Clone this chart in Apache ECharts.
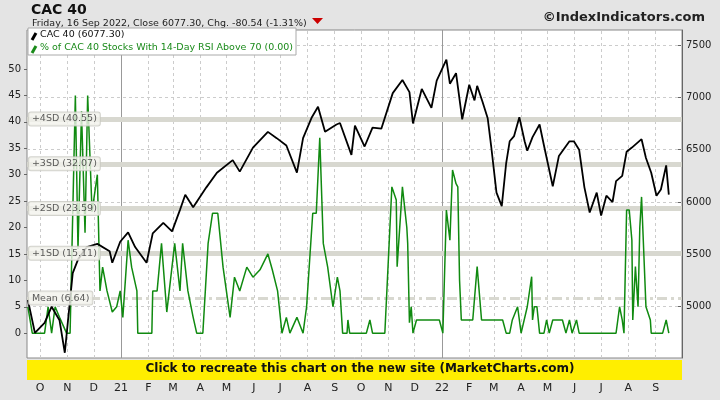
<!DOCTYPE html>
<html><head><meta charset="utf-8">
<script src="https://cdn.jsdelivr.net/npm/echarts@6/dist/echarts.min.js"></script>
<style>html,body{margin:0;padding:0;background:#e4e4e4}#c{width:720px;height:400px}</style>
</head><body><div id="c"></div>
<script>
// day offsets are days since 2020-09-16
const cacDays = [1,9,20,28,37,43,52,58,68,80,94,97,106,115,123,136,143,155,165,174,180,189,204,216,234,242,257,274,284,295,307,314,324,331,339,352,356,369,373,384,393,403,416,427,435,439,449,460,466,477,481,488,495,503,509,512,518,524,528,534,540,545,549,554,560,566,569,575,583,588,598,605,617,622,628,634,640,648,653,659,666,670,677,682,688,699,704,710,716,721,727,730];
const cacValues = [5064,4750,4845,5000,4870,4560,5320,5450,5570,5600,5530,5420,5620,5710,5570,5420,5700,5800,5720,5925,6070,5950,6140,6280,6400,6290,6520,6670,6610,6540,6280,6610,6810,6910,6670,6740,6755,6450,6730,6530,6710,6700,7040,7165,7050,6750,7080,6900,7160,7360,7130,7230,6790,7120,6970,7110,6960,6800,6530,6090,5960,6370,6580,6630,6810,6580,6490,6620,6740,6540,6150,6440,6580,6580,6500,6140,5900,6090,5870,6060,6000,6200,6250,6480,6520,6600,6420,6280,6060,6120,6350,6070];
const rsiDays = [1,6,20,24,28,32,37,45,49,55,58,62,66,69,74,80,83,86,91,97,102,106,109,115,119,125,126,142,143,148,153,159,168,174,177,183,189,193,200,206,211,217,223,231,236,242,250,257,265,274,279,285,290,295,299,307,314,318,325,329,333,337,342,348,353,356,359,364,365,367,386,390,393,407,415,420,421,427,432,433,435,437,439,443,444,469,473,477,481,484,488,490,492,494,507,512,517,541,545,549,552,558,562,569,574,575,577,580,583,588,591,594,598,609,613,617,620,625,628,670,674,677,679,682,685,688,689,692,695,697,699,704,709,710,723,727,730];
const rsiValues = [5,0,0,5,0,5,3,0,0,45,16,42,19,45,23,30,8,12.5,8,4,5,8,3,17.6,12.5,8,0,0,8,8,17,4,17,8,17,8,3,0,0,17,22.7,22.7,12.5,3,10.6,8,12.5,10.6,12,15,12,8,0,3,0,3,0,5,22.7,22.7,37,17,12.5,5,10.6,8,0,0,2.5,0,0,2.5,0,0,27.7,25.2,12.6,27.7,20,17,2,5,0,2.5,2.5,2.5,0,23.3,17.6,30.9,28.3,27.7,10,2.5,2.5,12.6,2.5,2.5,0,0,2.5,5,0,5,10.7,2.5,5,5,0,0,2.5,0,2.5,2.5,0,2.5,0,2.5,0,0,5,2.5,0,23.3,23.3,17.6,2.5,12.6,5,20,25.8,5,2.5,0,0,2.5,0];
const monthDays = [15,46,76,107,138,166,197,227,258,288,319,350,380,411,441,472,503,531,562,592,623,653,684,715];
const monthLabels = ['O','N','D','21','F','M','A','M','J','J','A','S','O','N','D','22','F','M','A','M','J','J','A','S'];
const yearDays = [107,472];
const leftTicks = [0,5,10,15,20,25,30,35,40,45,50];
const rightTicks = [4500,5000,5500,6000,6500,7000,7500];
const bandNames = ['+4SD (40.55)','+3SD (32.07)','+2SD (23.59)','+1SD (15.11)','Mean (6.64)'];
const bandValues = [40.55,32.07,23.59,15.11,6.64];

const F = 'DejaVu Sans';
const zip = (a,b)=>a.map((d,i)=>[d,b[i]]);
const chart = echarts.init(document.getElementById('c'));
const bandLines = bandValues.map((v,i)=> i<4 ? {yAxis:v} :
  {yAxis:v,lineStyle:{type:[10,4,3,4],width:3,color:'#d8d8d0'}});
chart.setOption({
  backgroundColor:'#e4e4e4',
  animation:false,
  title:[
    {text:'CAC 40',left:26,top:-2,textStyle:{fontFamily:F,fontSize:14,fontWeight:'bold',color:'#111'}},
    {text:'Friday, 16 Sep 2022, Close 6077.30, Chg. -80.54 (-1.31%)',left:27,top:14,textStyle:{fontFamily:F,fontSize:9.5,fontWeight:'normal',color:'#222'}},
    {text:'©IndexIndicators.com',right:10,top:6,textStyle:{fontFamily:F,fontSize:13,fontWeight:'bold',color:'#222'}}
  ],
  graphic:[
    {type:'polygon',shape:{points:[[312,18],[323,18],[317.5,24]]},style:{fill:'#cc0000'}},
    {type:'rect',shape:{x:27,y:360,width:655,height:20},style:{fill:'#ffee00'},z:10},
    {type:'text',left:'center',top:363,style:{text:'Click to recreate this chart on the new site (MarketCharts.com)',font:'bold 12px DejaVu Sans',fill:'#111'},z:11},
    {type:'rect',shape:{x:28,y:28,width:268,height:27},style:{fill:'#fff',stroke:'#aaa',lineWidth:1},z:20},
    {type:'line',shape:{x1:32,y1:40,x2:36,y2:33},style:{stroke:'#000',lineWidth:3},z:21},
    {type:'text',x:40,y:30,style:{text:'CAC 40 (6077.30)',font:'9.5px DejaVu Sans',fill:'#111'},z:21},
    {type:'line',shape:{x1:32,y1:53,x2:36,y2:46},style:{stroke:'#1a8a1a',lineWidth:3},z:21},
    {type:'text',x:40,y:43,style:{text:'% of CAC 40 Stocks With 14-Day RSI Above 70 (0.00)',font:'9.5px DejaVu Sans',fill:'#1a8a1a'},z:21}
  ],
  grid:{left:27,right:38,top:30,bottom:42,show:true,backgroundColor:'#fff',borderColor:'#888'},
  xAxis:{type:'value',min:0,max:745,splitLine:{show:false},axisLine:{show:false},
    axisTick:{show:false},
    axisLabel:{customValues:monthDays,margin:25,fontFamily:F,fontSize:11,color:'#222',
      formatter:v=>monthLabels[monthDays.indexOf(v)]}},
  yAxis:[
    {type:'value',min:-4.7,max:57.4,position:'left',splitLine:{show:false},axisLine:{show:false},
      axisTick:{show:true,customValues:leftTicks,length:3,lineStyle:{color:'#666'}},
      axisLabel:{customValues:leftTicks,fontFamily:F,fontSize:10,color:'#222',margin:6}},
    {type:'value',min:4510,max:7643,position:'right',splitLine:{show:false},axisLine:{show:true,lineStyle:{color:'#666'}},
      axisTick:{show:true,customValues:rightTicks,length:4,inside:true,lineStyle:{color:'#666'}},
      axisLabel:{customValues:rightTicks,fontFamily:F,fontSize:10,color:'#222',margin:4,formatter:v=>String(v)}}
  ],
  series:[
    {type:'line',yAxisIndex:1,data:[],silent:true,
      markLine:{symbol:'none',silent:true,label:{show:false},animation:false,
        data:[...rightTicks.map(v=>({yAxis:v,lineStyle:{type:[3,3],color:'#ccc',width:1}})),
              ...monthDays.filter(d=>!yearDays.includes(d)).map(d=>({xAxis:d,lineStyle:{type:[3,3],color:'#ccc',width:1}})),
              ...yearDays.map(d=>({xAxis:d,lineStyle:{type:'solid',color:'#999',width:1}}))]}},
    {type:'line',yAxisIndex:0,data:[],silent:true,
      markLine:{symbol:'none',silent:true,animation:false,label:{show:false},
        lineStyle:{type:'solid',width:5,color:'#d8d8d0'},data:bandLines}},
    {name:'rsi',type:'line',yAxisIndex:0,data:zip(rsiDays,rsiValues),showSymbol:false,
      lineStyle:{color:'#108a10',width:1.5},z:5},
    {name:'cac',type:'line',yAxisIndex:1,data:zip(cacDays,cacValues),showSymbol:false,
      lineStyle:{color:'#000',width:1.8},z:6},
    {type:'scatter',yAxisIndex:0,symbolSize:0,z:8,silent:true,
      data:bandValues.map((v,i)=>({value:[1,v],name:bandNames[i]})),
      label:{show:true,position:'right',distance:1,formatter:p=>p.name,fontFamily:F,fontSize:9.5,color:'#333',
        backgroundColor:'#f2f2ec',borderColor:'#c8c8c0',borderWidth:1,padding:[2,3,1,3],borderRadius:2}}
  ]
});
</script></body></html>
